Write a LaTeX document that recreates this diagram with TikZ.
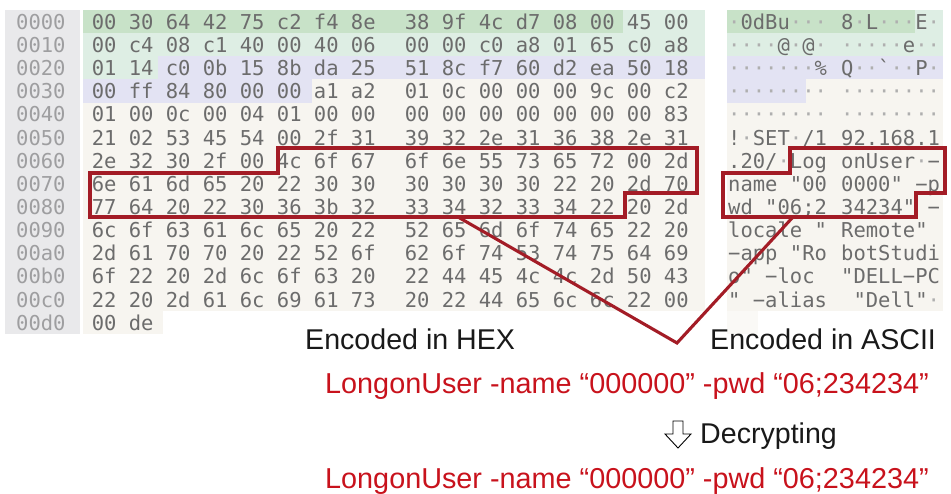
\documentclass[tikz,border=0pt]{standalone}
\usepackage{fontspec}
\setmainfont{Liberation Sans}
\setmonofont{DejaVu Sans Mono}
\definecolor{offbg}{RGB}{233,233,235}
\definecolor{cream}{RGB}{247,245,240}
\definecolor{dgreen}{RGB}{200,226,200}
\definecolor{lgreen}{RGB}{222,238,228}
\definecolor{lav}{RGB}{227,227,243}
\definecolor{offc}{RGB}{158,158,160}
\definecolor{hexc}{RGB}{108,108,108}
\definecolor{dotc}{RGB}{175,175,175}
\definecolor{boxred}{RGB}{163,28,38}
\definecolor{txtred}{RGB}{200,18,28}
\definecolor{capc}{RGB}{25,25,25}
\newcommand\Dt{{\color{dotc}·}}
\tikzset{
  mono/.style={anchor=base west, inner sep=0pt, font=\ttfamily\fontsize{20.5}{24}\selectfont},
  offs/.style={mono, text=offc},
  hx/.style={mono, text=hexc},
  captxt/.style={anchor=base west, inner sep=0pt, font=\fontsize{28.6}{34}\selectfont, text=capc},
  redtxt/.style={anchor=base west, inner sep=0pt, font=\fontsize{28.8}{34}\selectfont, text=txtred},
  hl/.style={draw=boxred, line width=3.1pt, line join=miter},
  link/.style={draw=boxred, line width=3.1pt, line join=miter}
}
\newcommand\hexrow[6]{%
  \node[offs] (o#1) at (16,{29.3+23.15*#1}) {#2};
  \node[hx] (ha#1) at (91.6,{29.3+23.15*#1}) {#3};
  \node[hx] (hb#1) at (404.6,{29.3+23.15*#1}) {#4};
  \node[hx] (aa#1) at (728,{29.3+23.15*#1}) {#5};
  \node[hx] (ab#1) at (841,{29.3+23.15*#1}) {#6};
}
\begin{document}
\begin{tikzpicture}[x=1pt,y=-1pt]
\useasboundingbox (0,0) rectangle (951,494);
% backgrounds
\fill[offbg] (5,10) rectangle (80,334);
\fill[cream] (83,10) rectangle (705,311.2);
\fill[cream] (83,311.2) rectangle (163,334);
\fill[cream] (727,10) rectangle (943,311.2);
\fill[cream!60!white] (727,311.2) rectangle (758,334);
% hex colour bands
\fill[dgreen] (83,10) rectangle (623,33.15);
\fill[lgreen] (623,10) rectangle (705,33.15);
\fill[lgreen] (83,33.15) rectangle (705,56.3);
\fill[lgreen] (83,56.3) rectangle (158,79.45);
\fill[lav] (158,56.3) rectangle (705,79.45);
\fill[lav] (83,79.45) rectangle (312,102.6);
% ascii colour bands
\fill[dgreen] (727,10) rectangle (915,33.15);
\fill[lgreen] (915,10) rectangle (943,33.15);
\fill[lgreen] (727,33.15) rectangle (943,56.3);
\fill[lav] (727,56.3) rectangle (943,79.45);
\fill[lav] (727,79.45) rectangle (806,102.6);
% rows
\hexrow{0}{0000}{00 30 64 42 75 c2 f4 8e}{38 9f 4c d7 08 00 45 00}{\Dt0dBu\Dt\Dt\Dt}{8\Dt L\Dt\Dt\Dt E\Dt}
\hexrow{1}{0010}{00 c4 08 c1 40 00 40 06}{00 00 c0 a8 01 65 c0 a8}{\Dt\Dt\Dt\Dt@\Dt@\Dt}{\Dt\Dt\Dt\Dt\Dt e\Dt\Dt}
\hexrow{2}{0020}{01 14 c0 0b 15 8b da 25}{51 8c f7 60 d2 ea 50 18}{\Dt\Dt\Dt\Dt\Dt\Dt\Dt\%}{Q\Dt\Dt`\Dt\Dt P\Dt}
\hexrow{3}{0030}{00 ff 84 80 00 00 a1 a2}{01 0c 00 00 00 9c 00 c2}{\Dt\Dt\Dt\Dt\Dt\Dt\Dt\Dt}{\Dt\Dt\Dt\Dt\Dt\Dt\Dt\Dt}
\hexrow{4}{0040}{01 00 0c 00 04 01 00 00}{00 00 00 00 00 00 00 83}{\Dt\Dt\Dt\Dt\Dt\Dt\Dt\Dt}{\Dt\Dt\Dt\Dt\Dt\Dt\Dt\Dt}
\hexrow{5}{0050}{21 02 53 45 54 00 2f 31}{39 32 2e 31 36 38 2e 31}{!\Dt SET\Dt/1}{92.168.1}
\hexrow{6}{0060}{2e 32 30 2f 00 4c 6f 67}{6f 6e 55 73 65 72 00 2d}{.20/\Dt Log}{onUser\Dt−}
\hexrow{7}{0070}{6e 61 6d 65 20 22 30 30}{30 30 30 30 22 20 2d 70}{name "00}{0000" −p}
\hexrow{8}{0080}{77 64 20 22 30 36 3b 32}{33 34 32 33 34 22 20 2d}{wd "06;2}{34234" −}
\hexrow{9}{0090}{6c 6f 63 61 6c 65 20 22}{52 65 6d 6f 74 65 22 20}{locale "}{Remote"}
\hexrow{10}{00a0}{2d 61 70 70 20 22 52 6f}{62 6f 74 53 74 75 64 69}{−app "Ro}{botStudi}
\hexrow{11}{00b0}{6f 22 20 2d 6c 6f 63 20}{22 44 45 4c 4c 2d 50 43}{o" −loc}{"DELL−PC}
\hexrow{12}{00c0}{22 20 2d 61 6c 69 61 73}{20 22 44 65 6c 6c 22 00}{" −alias}{\ "Dell"\Dt}
\node[offs] (o13) at (16,{29.3+23.15*13}) {00d0};
\node[hx] (ha13) at (91.6,{29.3+23.15*13}) {00 de};
% highlight boxes
\draw[hl] (278,148) -- (697,148) -- (697,193) -- (625,193) -- (625,217) -- (90,217) -- (90,173) -- (278,173) -- cycle;
\draw[hl] (790,148) -- (945,148) -- (945,193) -- (916,193) -- (916,217) -- (723,217) -- (723,173) -- (790,173) -- cycle;
% connectors
\coordinate (hexbot) at (458,217);
\coordinate (ascbot) at (793,217);
\coordinate (vtip) at (677,343);
\draw[link] (hexbot) -- (vtip) -- (ascbot);
% captions
\node[captxt] (enchex) at (305,350) {Encoded in HEX};
\node[captxt] (encasc) at (710,350) {Encoded in ASCII};
\node[redtxt] (line1) at (325,393) {LongonUser -name “000000” -pwd “06;234234”};
\draw[line width=0.9pt, fill=white, line join=miter] (673,421) -- (683,421) -- (683,434) -- (691,434) -- (678,448) -- (665,434) -- (673,434) -- cycle;
\node[captxt] (dec) at (700,443) {Decrypting};
\node[redtxt] (line2) at (325,488) {LongonUser -name “000000” -pwd “06;234234”};
\end{tikzpicture}
\end{document}
